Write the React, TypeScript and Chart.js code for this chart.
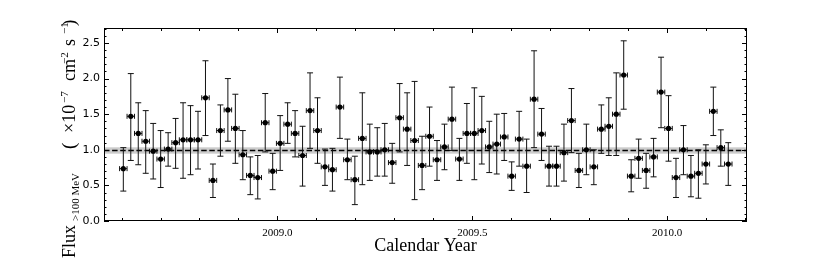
import React, { useEffect, useRef } from 'react';
import { Chart, registerables } from 'chart.js';

Chart.register(...registerables);

// Weekly bins (Fermi-LAT light curve)
const binStartYear = 2008.595;
const binWidthYears = 7 / 365.25;

const flux = [
  0.735, 1.47, 1.23, 1.12, 0.98, 0.87, 1.01, 1.10, 1.14, 1.14,
  1.14, 1.73, 0.57, 1.27, 1.56, 1.30, 0.93, 0.64, 0.61, 1.38,
  0.70, 1.09, 1.36, 1.23, 0.92, 1.55, 1.27, 0.76, 0.72, 1.60,
  0.86, 0.58, 1.16, 0.97, 0.97, 1.00, 0.82, 1.45, 1.29, 1.13,
  0.78, 1.19, 0.86, 1.04, 1.43, 0.87, 1.23, 1.23, 1.27, 1.04,
  1.08, 1.18, 0.63, 1.15, 0.77, 1.71, 1.22, 0.77, 0.77, 0.96,
  1.41, 0.71, 1.00, 0.76, 1.29, 1.33, 1.50, 2.05, 0.63, 0.88,
  0.71, 0.90, 1.81, 1.30, 0.61, 1.00, 0.63, 0.67, 0.80, 1.54,
  1.03, 0.80,
];

const fluxHi = [
  1.03, 2.07, 1.66, 1.55, 1.37, 1.27, 1.24, 1.44, 1.66, 1.62,
  1.54, 2.25, 0.80, 1.63, 2.00, 1.78, 1.27, 0.90, 0.92, 1.79,
  0.95, 1.48, 1.66, 1.55, 1.33, 2.08, 1.73, 1.01, 1.02, 2.02,
  1.15, 0.91, 1.80, 1.36, 1.31, 1.37, 1.09, 1.93, 1.80, 1.96,
  1.19, 1.60, 1.13, 1.36, 1.88, 1.16, 1.65, 1.87, 1.75, 1.40,
  1.50, 1.51, 0.83, 1.54, 1.15, 2.39, 1.58, 1.05, 1.05, 1.36,
  1.86, 0.95, 1.36, 1.00, 1.63, 1.73, 2.08, 2.53, 0.86, 1.15,
  0.95, 1.16, 2.30, 1.76, 0.88, 1.34, 0.92, 1.00, 1.07, 1.88,
  1.28, 1.10,
];

const fluxLo = [
  0.42, 0.85, 0.79, 0.67, 0.59, 0.47, 0.77, 0.74, 0.60, 0.65,
  0.73, 1.20, 0.33, 0.91, 1.12, 0.81, 0.58, 0.37, 0.31, 0.97,
  0.44, 0.71, 1.09, 0.90, 0.49, 1.02, 0.81, 0.50, 0.42, 1.16,
  0.58, 0.23, 0.51, 0.57, 0.63, 0.63, 0.53, 0.97, 0.78, 0.30,
  0.44, 0.77, 0.57, 0.72, 0.99, 0.57, 0.81, 0.58, 0.80, 0.68,
  0.66, 0.85, 0.43, 0.77, 0.40, 1.03, 0.85, 0.49, 0.49, 0.56,
  0.96, 0.47, 0.65, 0.51, 0.95, 0.92, 0.92, 1.57, 0.41, 0.60,
  0.46, 0.62, 1.31, 0.84, 0.33, 0.65, 0.34, 0.32, 0.52, 1.20,
  0.77, 0.50,
];

const meanFlux = 0.99;
const meanBand = [0.945, 1.035];

const xTickValues = [2009.0, 2009.5, 2010.0];
const yTickValues = [0.0, 0.5, 1.0, 1.5, 2.0, 2.5];
const xRange = [2008.555, 2010.205];
const yRange = [0, 2.71];

const weekCenters = flux.map((_, i) => binStartYear + (i + 0.5) * binWidthYears);

const SERIF = "'Liberation Serif', 'DejaVu Serif', serif";
const SANS = "'DejaVu Sans', sans-serif";

// y-axis title pieces: text, font size, baseline shift (+ = down in text frame), offset along axis
const yTitleParts = [
  { t: 'Flux', size: 18, shift: 0, at: 0 },
  { t: '>100 MeV', size: 11, shift: 3.5, at: 37 },
  { t: '(', size: 19, shift: 0, at: 109 },
  { t: '\u00d710', size: 18, shift: 0, at: 125 },
  { t: '\u22127', size: 11, shift: -7, at: 155 },
  { t: 'cm', size: 18, shift: 0, at: 177 },
  { t: '\u22122', size: 11, shift: -7, at: 194 },
  { t: 's', size: 18, shift: 0, at: 212 },
  { t: '\u22121', size: 11, shift: -7, at: 224 },
  { t: ')', size: 19, shift: 0, at: 232 },
];

const decorPlugin = {
  id: 'lcDecor',
  beforeDatasetsDraw(chart: any) {
    const { ctx, chartArea } = chart;
    const xs = chart.scales.x;
    const ys = chart.scales.y;
    ctx.save();
    // mean band
    const b1 = ys.getPixelForValue(meanBand[1]);
    const b0 = ys.getPixelForValue(meanBand[0]);
    ctx.fillStyle = 'rgba(0,0,0,0.2)';
    ctx.fillRect(chartArea.left, b1, chartArea.right - chartArea.left, b0 - b1);
    // mean dashed line
    const my = ys.getPixelForValue(meanFlux);
    ctx.strokeStyle = '#000';
    ctx.lineWidth = 1.3;
    ctx.setLineDash([5.5, 2.6]);
    ctx.beginPath();
    ctx.moveTo(chartArea.left, my);
    ctx.lineTo(chartArea.right, my);
    ctx.stroke();
    ctx.setLineDash([]);
    // error bars
    ctx.lineWidth = 1;
    ctx.strokeStyle = '#111';
    const half = binWidthYears / 2;
    for (let i = 0; i < flux.length; i++) {
      const px = xs.getPixelForValue(weekCenters[i]);
      const py = ys.getPixelForValue(flux[i]);
      const ph = ys.getPixelForValue(fluxHi[i]);
      const pl = ys.getPixelForValue(fluxLo[i]);
      const xl = xs.getPixelForValue(weekCenters[i] - half);
      const xr = xs.getPixelForValue(weekCenters[i] + half);
      ctx.beginPath();
      ctx.moveTo(px, ph); ctx.lineTo(px, pl);
      ctx.moveTo(px - 3, ph); ctx.lineTo(px + 3, ph);
      ctx.moveTo(px - 3, pl); ctx.lineTo(px + 3, pl);
      ctx.moveTo(xl, py); ctx.lineTo(xr, py);
      ctx.moveTo(xl, py - 2.5); ctx.lineTo(xl, py + 2.5);
      ctx.moveTo(xr, py - 2.5); ctx.lineTo(xr, py + 2.5);
      ctx.stroke();
    }
    ctx.restore();
  },
  afterDraw(chart: any) {
    const { ctx, chartArea } = chart;
    const xs = chart.scales.x;
    const ys = chart.scales.y;
    const { left, right, top, bottom } = chartArea;
    ctx.save();
    ctx.strokeStyle = '#000';
    ctx.lineWidth = 1;
    ctx.strokeRect(left + 0.5, top + 0.5, right - left - 1, bottom - top - 1);
    // ticks (inward)
    ctx.beginPath();
    for (let k = 0; k <= 16; k++) {
      const v = 2008.6 + k * 0.1;
      const major = Math.abs(v * 2 - Math.round(v * 2)) < 1e-6;
      const len = major ? 5 : 3;
      const px = Math.round(xs.getPixelForValue(v)) + 0.5;
      ctx.moveTo(px, bottom); ctx.lineTo(px, bottom - len);
      ctx.moveTo(px, top); ctx.lineTo(px, top + len);
    }
    for (let k = 0; k <= 27; k++) {
      const v = k * 0.1;
      const len = k % 5 === 0 ? 5 : 2.5;
      const py = Math.round(ys.getPixelForValue(v)) + 0.5;
      ctx.moveTo(left, py); ctx.lineTo(left + len, py);
      ctx.moveTo(right, py); ctx.lineTo(right - len, py);
    }
    ctx.stroke();
    // y-axis title (rotated, with sub/superscripts)
    ctx.translate(75, 258);
    ctx.rotate(-Math.PI / 2);
    ctx.fillStyle = '#000';
    ctx.textBaseline = 'alphabetic';
    ctx.textAlign = 'left';
    for (const p of yTitleParts) {
      ctx.font = `${p.size}px ${SERIF}`;
      ctx.fillText(p.t, p.at, p.shift);
    }
    ctx.restore();
  },
};

export default function App() {
  const ref = useRef<HTMLCanvasElement>(null);
  useEffect(() => {
    if (!ref.current) return;
    const chart = new Chart(ref.current, {
      type: 'scatter',
      data: {
        datasets: [
          {
            label: 'Flux',
            data: weekCenters.map((x, i) => ({ x, y: flux[i] })),
            pointRadius: 2.6,
            pointBackgroundColor: '#000',
            pointBorderWidth: 0,
            showLine: false,
          },
        ],
      },
      options: {
        animation: false,
        responsive: false,
        layout: { padding: { left: 0, right: 83, top: 28, bottom: 0 } },
        plugins: { legend: { display: false }, tooltip: { enabled: false } },
        scales: {
          x: {
            type: 'linear',
            min: xRange[0],
            max: xRange[1],
            afterBuildTicks: (s: any) => {
              s.ticks = xTickValues.map((v) => ({ value: v }));
            },
            afterFit: (s: any) => {
              s.height = 57;
            },
            grid: { display: false, drawTicks: false },
            border: { display: false },
            ticks: {
              callback: (v: any) => Number(v).toFixed(1),
              font: { family: SERIF, size: 11 },
              color: '#000',
              padding: 6,
              maxRotation: 0,
              autoSkip: false,
            },
            title: {
              display: true,
              text: 'Calendar Year',
              font: { family: SERIF, size: 18 },
              color: '#000',
              padding: { top: 0, bottom: 21 },
            },
          },
          y: {
            min: yRange[0],
            max: yRange[1],
            afterBuildTicks: (s: any) => {
              s.ticks = yTickValues.map((v) => ({ value: v }));
            },
            afterFit: (s: any) => {
              s.width = 104;
            },
            grid: { display: false, drawTicks: false },
            border: { display: false },
            ticks: {
              callback: (v: any) => Number(v).toFixed(1),
              font: { family: SANS, size: 11 },
              color: '#000',
              padding: 4,
            },
          },
        },
      },
      plugins: [decorPlugin],
    } as any);
    return () => chart.destroy();
  }, []);
  return (
    <div style={{ position: 'fixed', left: 0, top: 0, width: 830, height: 278, background: '#fff' }}>
      <canvas ref={ref} width={830} height={278} style={{ display: 'block', width: 830, height: 278 }} />
    </div>
  );
}
